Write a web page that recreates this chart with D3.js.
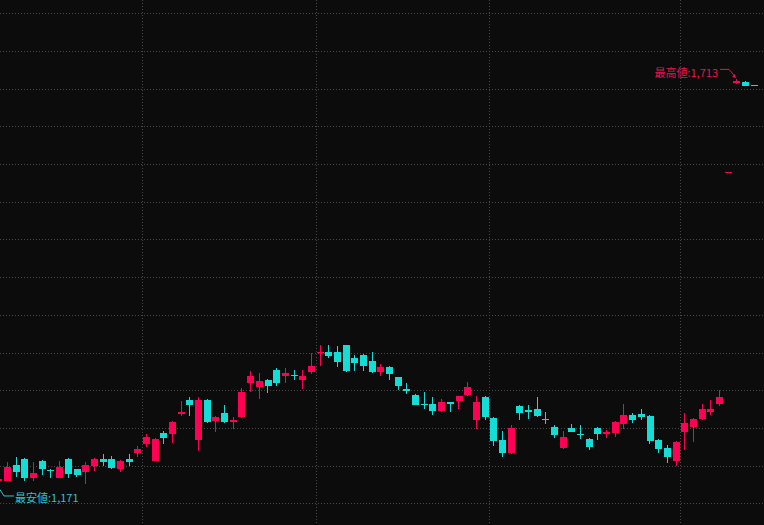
<!DOCTYPE html>
<html>
<head>
<meta charset="utf-8">
<script src="https://cdn.jsdelivr.net/npm/d3@7"></script>
<style>
html,body{margin:0;padding:0;background:#0c0c0c;overflow:hidden;}
svg{display:block;}
</style>
</head>
<body>
<script>
// ---- data (prices in yen) ----
const opens  = [1180,1180,1201,1209,1183,1206,1194,1184,1209,1195,1192,1200,1209,1209,1196,1209,1217,1229,1206,1243,1242,1269,1287,1234,1287,1259,1270,1258,1264,1310,1304,1314,1327,1319,1320,1314,1324,1349,1351,1351,1360,1343,1347,1339,1324,1331,1317,1302,1294,1282,1282,1272,1284,1286,1294,1260,1291,1263,1234,1217,1279,1274,1275,1262,1251,1223,1250,1242,1235,1250,1242,1243,1255,1267,1268,1266,1234,1223,1206,1245,1251,1262,1271,1282,1589,1708,1709,1705];
const highs  = [1184,1205,1212,1210,1205,1207,1196,1206,1210,1196,1205,1210,1215,1213,1207,1215,1226,1242,1237,1246,1259,1286,1291,1291,1288,1266,1280,1264,1303,1326,1323,1315,1329,1330,1327,1327,1349,1360,1360,1359,1360,1347,1348,1351,1335,1332,1318,1310,1295,1298,1291,1288,1285,1293,1311,1292,1292,1264,1246,1254,1280,1280,1291,1271,1254,1246,1255,1254,1236,1251,1247,1259,1282,1270,1275,1267,1235,1227,1232,1270,1263,1282,1287,1300,1590,1713,1710,1705];
const lows   = [1171,1180,1185,1180,1179,1188,1184,1184,1184,1185,1176,1193,1200,1196,1192,1200,1211,1225,1206,1229,1230,1266,1266,1219,1256,1245,1257,1249,1263,1298,1288,1296,1306,1310,1314,1302,1322,1332,1343,1331,1324,1325,1325,1323,1319,1314,1300,1295,1280,1275,1267,1271,1271,1275,1293,1248,1260,1226,1211,1216,1260,1262,1264,1255,1237,1222,1244,1235,1221,1234,1236,1238,1249,1256,1260,1229,1217,1203,1199,1221,1231,1261,1267,1279,1589,1706,1704,1704];
const closes = [1182,1198,1191,1183,1190,1196,1193,1198,1189,1188,1201,1209,1205,1197,1206,1205,1222,1238,1235,1236,1258,1271,1280,1287,1258,1264,1258,1260,1298,1319,1312,1306,1310,1323,1319,1319,1332,1351,1345,1337,1325,1336,1332,1324,1331,1322,1306,1299,1280,1280,1272,1284,1282,1292,1304,1284,1264,1233,1217,1250,1270,1271,1266,1260,1241,1238,1245,1240,1225,1242,1245,1258,1267,1260,1264,1233,1222,1211,1231,1256,1262,1275,1275,1291,1590,1710,1704,1704];
const monthStarts = [17, 37, 57, 79];           // first candle index of each new month
const gridPrices = d3.range(1150, 1801, 50);    // horizontal grid levels
const maxLabel = "最高値:1,713";
const minLabel = "最安値:1,171";

const W = 764, H = 525;
const UP = "#ff0055", DOWN = "#12ddd6", GRID = "#4a4a4a";

const svg = d3.select("body").append("svg").attr("width", W).attr("height", H);
svg.append("rect").attr("width", W).attr("height", H).attr("fill", "#0c0c0c");

const idx = d3.range(opens.length);
const x = d3.scaleBand().domain(idx).range([-5.5, 758.5]).paddingInner(0.2).paddingOuter(0.1);
const y = d3.scaleLinear().domain([1150, 1800]).range([503.3, 13.3]);
const gapHalf = (x.step() - x.bandwidth()) / 2;

// grid
svg.append("g").selectAll("line").data(gridPrices).join("line")
  .attr("x1", 0).attr("x2", W)
  .attr("y1", d => Math.round(y(d)) + 0.5).attr("y2", d => Math.round(y(d)) + 0.5)
  .attr("stroke", GRID).attr("stroke-width", 1).attr("stroke-dasharray", "1,2");
svg.append("g").selectAll("line").data(monthStarts).join("line")
  .attr("x1", d => Math.round(x(d) - gapHalf) + 0.5).attr("x2", d => Math.round(x(d) - gapHalf) + 0.5)
  .attr("y1", 0).attr("y2", H)
  .attr("stroke", GRID).attr("stroke-width", 1).attr("stroke-dasharray", "1,2");

// candles
const candles = idx.map(i => ({i, o: opens[i], h: highs[i], l: lows[i], c: closes[i]}));
const g = svg.append("g").attr("shape-rendering", "crispEdges");
const cg = g.selectAll("g").data(candles).join("g");
cg.append("line")
  .attr("x1", d => Math.floor(x(d.i) + x.bandwidth() / 2) + 0.5)
  .attr("x2", d => Math.floor(x(d.i) + x.bandwidth() / 2) + 0.5)
  .attr("y1", d => Math.round(y(d.h))).attr("y2", d => Math.round(y(d.l)))
  .attr("stroke", d => d.c >= d.o ? UP : DOWN).attr("stroke-width", 1);
cg.append("rect")
  .attr("x", d => Math.round(x(d.i)))
  .attr("width", 7)
  .attr("y", d => Math.round(y(Math.max(d.o, d.c))))
  .attr("height", d => Math.max(1, Math.round(y(Math.min(d.o, d.c))) - Math.round(y(Math.max(d.o, d.c)))))
  .attr("fill", d => d.c >= d.o ? UP : DOWN);

// max / min annotations
const iMax = d3.maxIndex(highs), iMin = d3.minIndex(lows);
const mx = Math.floor(x(iMax) + x.bandwidth() / 2), my = y(highs[iMax]);
const nx = x(iMin) + x.bandwidth() / 2, ny = y(lows[iMin]);
const font = "'Noto Sans CJK JP', 'Noto Sans', sans-serif";

svg.append("text").attr("x", mx - 18).attr("y", my - 1.5).attr("text-anchor", "end")
  .attr("font-family", font).attr("font-size", 11).attr("fill", "#f0104e").text(maxLabel);
svg.append("path").attr("d", `M${mx-16},${my-9.5} H${mx-7} L${mx-1.5},${my-3}`)
  .attr("fill", "none").attr("stroke", "#f0104e").attr("stroke-width", 1);
svg.append("path").attr("d", `M${mx},${my-1} l-4,-1 l3,-3 z`).attr("fill", "#f0104e");

svg.append("text").attr("x", 15).attr("y", ny + 14.5)
  .attr("font-family", font).attr("font-size", 11).attr("fill", "#2cc3d0").text(minLabel);
svg.append("path").attr("d", `M14,${ny+8.5} H4 L${nx+1},${ny+2}`)
  .attr("fill", "none").attr("stroke", "#2cc3d0").attr("stroke-width", 1);
</script>
</body>
</html>
